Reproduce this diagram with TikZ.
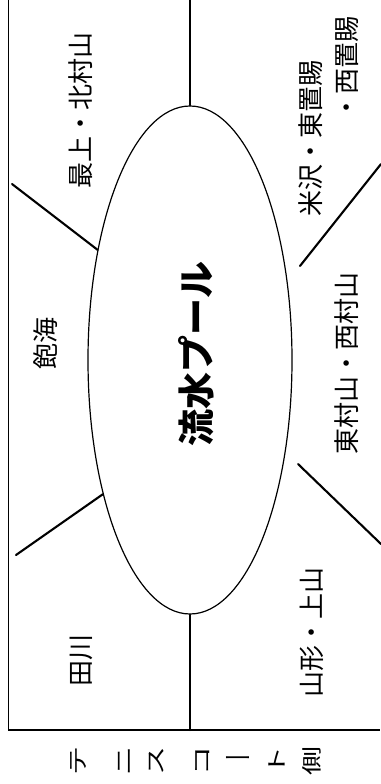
\documentclass[tikz,border=0pt]{standalone}
\usepackage{fontspec}
\setmainfont{Noto Sans CJK JP}
\usetikzlibrary{shapes.geometric}
\tikzset{
  wall/.style={line width=1.6pt},
  cut/.style={line width=2.1pt, line cap=round},
  area/.style={rotate=90, inner sep=0pt, font=\fontsize{26}{30}\selectfont},
}
\begin{document}
\begin{tikzpicture}[x=1pt, y=-1pt]
  \useasboundingbox[fill=white] (0,0) rectangle (380,784);
  % frame
  \coordinate (f0) at (8.5,0);
  \coordinate (f1) at (8.5,730);
  \coordinate (f2) at (380,730);
  \draw[wall](f0) -- (f1) -- (f2);
  % pool
  \node[ellipse, draw, line width=1.2pt, minimum width=204pt, minimum height=508pt, inner sep=0pt] (pool) at (190,360){};
  \node[rotate=90, inner sep=0pt, font=\fontsize{37}{40}\selectfont\bfseries] (pooltxt) at (196,354){流水プール};
  % dividing lines
  \coordinate (c0) at (190,0);
  \coordinate (c1) at (12,184);
  \coordinate (c2) at (16,555);
  \coordinate (c3) at (300,266);
  \coordinate (c4) at (381,164);
  \coordinate (c5) at (298,464);
  \coordinate (c6) at (381,544);
  \draw[cut](c0) -- (pool.north);
  \draw[cut](pool.south) -- (f1 -| pool.south);
  \draw[cut](c1) -- (pool.130.2);
  \draw[cut](c2) -- (pool.237.3);
  \draw[cut](c3) -- (c4);
  \draw[cut](c5) -- (c6);
  % areas
  \node[area] (mog) at (81,110){最上・北村山};
  \node[area] (yon) at (311,138){米沢・東置賜};
  \node[area] (nis) at (347,68){・西置賜};
  \node[area] (aku) at (46,343){飽海};
  \node[area] (mur) at (347,363){東村山・西村山};
  \node[area] (tag) at (81,660){田川};
  \node[area] (yam) at (312,632){山形・上山};
  % tennis court side
  \foreach \ch/\x/\r [count=\i] in {テ/78/90, ニ/125/90, ス/157/90, コ/203/90, ー/238/0, ト/277/90, 側/312/90}
    \node[rotate=\r, yscale=0.7, inner sep=0pt, font=\fontsize{29}{30}\selectfont] (side\i) at (\x,761){\ch};
\end{tikzpicture}
\end{document}
